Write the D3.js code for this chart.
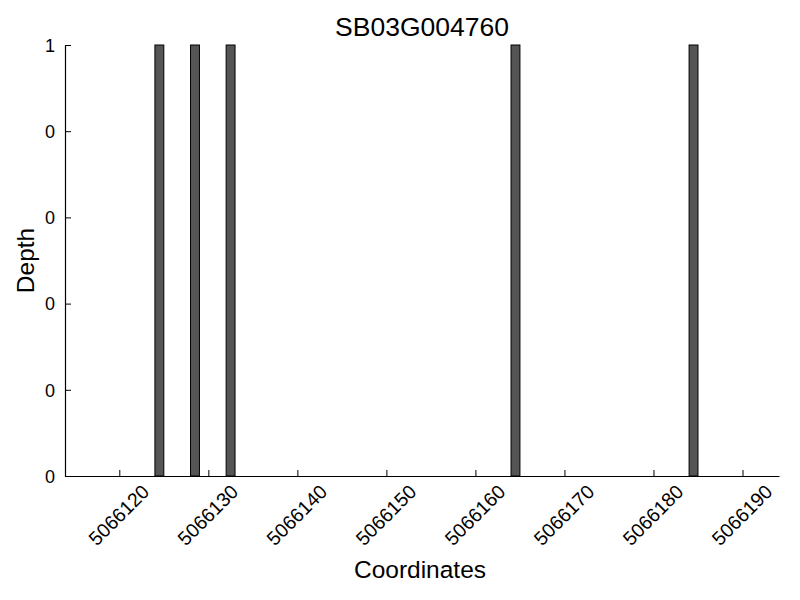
<!DOCTYPE html>
<html>
<head>
<meta charset="utf-8">
<script src="https://cdn.jsdelivr.net/npm/d3@7"></script>
<style>
  body { margin: 0; background: #fff; }
  text { font-family: "Liberation Sans", Arial, sans-serif; fill: #000; }
</style>
</head>
<body>
<div id="chart"></div>
<script>
// Data
const chartTitle = "SB03G004760";
const positions = [5066124, 5066128, 5066132, 5066164, 5066184];
const depths = [1, 1, 1, 1, 1];
const xTicks = [5066120, 5066130, 5066140, 5066150, 5066160, 5066170, 5066180, 5066190];
const yTicks = [0, 0.2, 0.4, 0.6, 0.8, 1];
const yTickLabels = ["0", "0", "0", "0", "0", "1"];
const xDomain = [5066113.9, 5066194.1];

// SVG setup
let svgWidth = 800;
let svgHeight = 600;
let margin = { top: 45, bottom: 124, left: 65, right: 21 };
let width = svgWidth - margin.left - margin.right;
let height = svgHeight - margin.top - margin.bottom;

let svg = d3.select("#chart")
    .append("svg")
    .attr("width", svgWidth)
    .attr("height", svgHeight);

let chartGroup = svg.append("g")
    .attr("transform", `translate(${margin.left},${margin.top})`);

// Scales
let xScale = d3.scaleLinear().domain(xDomain).range([0, width]);
let yScale = d3.scaleLinear().domain([0, 1]).range([height, 0]);

// Bars (left edge at the coordinate, one base wide)
chartGroup.selectAll("rect.bar")
    .data(positions.map((p, i) => ({ pos: p, depth: depths[i] })))
    .enter()
    .append("rect")
    .attr("class", "bar")
    .attr("x", d => xScale(d.pos))
    .attr("y", d => yScale(d.depth))
    .attr("width", d => xScale(d.pos + 1) - xScale(d.pos))
    .attr("height", d => yScale(0) - yScale(d.depth))
    .attr("fill", "#555555")
    .attr("stroke", "#000")
    .attr("stroke-width", 1);

// X axis, ticks pointing inward
let bottomAxis = d3.axisBottom(xScale)
    .tickValues(xTicks)
    .tickSize(-6)
    .tickSizeOuter(0)
    .tickFormat(d3.format("d"));
let xAxisG = chartGroup.append("g")
    .attr("transform", `translate(0,${height})`)
    .call(bottomAxis)
    .attr("font-family", "Liberation Sans, Arial, sans-serif");
xAxisG.select(".domain").attr("stroke", "#000").attr("stroke-width", 1.2);
xAxisG.selectAll(".tick line").attr("stroke", "#000");
xAxisG.selectAll(".tick text")
    .attr("y", 0)
    .attr("dy", "0.35em")
    .attr("text-anchor", "middle")
    .attr("transform", "translate(-1,39) rotate(-45)")
    .style("font-size", "19.5px");

// Y axis, ticks pointing inward
let leftAxis = d3.axisLeft(yScale)
    .tickValues(yTicks)
    .tickSize(-6)
    .tickSizeOuter(0)
    .tickFormat((d, i) => yTickLabels[i]);
let yAxisG = chartGroup.append("g")
    .call(leftAxis)
    .attr("font-family", "Liberation Sans, Arial, sans-serif");
yAxisG.select(".domain").attr("stroke", "#000").attr("stroke-width", 1.2);
yAxisG.selectAll(".tick line").attr("stroke", "#000");
yAxisG.selectAll(".tick text")
    .attr("x", -10)
    .attr("dy", "0.35em")
    .style("font-size", "18px");

// Title
svg.append("text")
    .attr("x", margin.left + width / 2)
    .attr("y", 36)
    .attr("text-anchor", "middle")
    .style("font-size", "26.5px")
    .text(chartTitle);

// X label
svg.append("text")
    .attr("x", margin.left + width / 2 - 2)
    .attr("y", 578)
    .attr("text-anchor", "middle")
    .style("font-size", "24.5px")
    .text("Coordinates");

// Y label
svg.append("text")
    .attr("transform", `translate(34,${margin.top + height / 2}) rotate(-90)`)
    .attr("text-anchor", "middle")
    .style("font-size", "24.5px")
    .text("Depth");
</script>
</body>
</html>
